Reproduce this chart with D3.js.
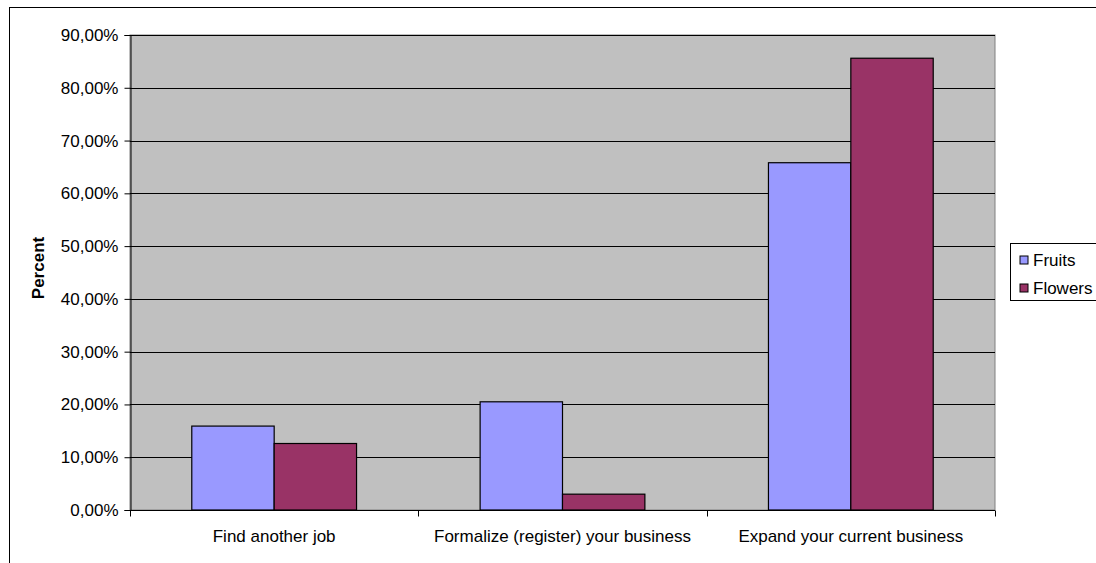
<!DOCTYPE html>
<html>
<head>
<meta charset="utf-8">
<script src="https://cdn.jsdelivr.net/npm/d3@7"></script>
<style>
  body { margin: 0; background: #fff; }
  svg { display: block; font-family: "Liberation Sans", Arial, sans-serif; }
</style>
</head>
<body>
<div id="chart"></div>
<script>
// data
const categories = ["Find another job", "Formalize (register) your business", "Expand your current business"];
const seriesNames = ["Fruits", "Flowers"];
const fruits = [0.159, 0.205, 0.658];
const flowers = [0.126, 0.030, 0.856];
const yTicks = [0, 0.1, 0.2, 0.3, 0.4, 0.5, 0.6, 0.7, 0.8, 0.9];

const colors = { Fruits: "#9999ff", Flowers: "#993366" };

const width = 1096, height = 563;
const plot = { left: 130, top: 35, right: 995, bottom: 510 };
const fontSize = "17px";

const svg = d3.select("#chart").append("svg")
  .attr("width", width)
  .attr("height", height);

// outer chart frame
svg.append("rect")
  .attr("x", 9.5).attr("y", 7.5)
  .attr("width", width + 10).attr("height", height + 10)
  .attr("fill", "#fff").attr("stroke", "#000").attr("stroke-width", 1);

// plot area background
svg.append("rect")
  .attr("x", plot.left).attr("y", plot.top)
  .attr("width", plot.right - plot.left).attr("height", plot.bottom - plot.top)
  .attr("fill", "#c0c0c0").attr("stroke", "#808080").attr("stroke-width", 1);

const x0 = d3.scaleBand().domain(categories).range([plot.left, plot.right]).paddingInner(0).paddingOuter(0);
const x1 = d3.scaleBand().domain(seriesNames).range([0, x0.bandwidth()]).paddingInner(0).paddingOuter(0.75);
const y = d3.scaleLinear().domain([0, 0.9]).range([plot.bottom, plot.top]);

// gridlines
svg.append("g").selectAll("line")
  .data(yTicks.slice(1))
  .join("line")
    .attr("x1", plot.left).attr("x2", plot.right)
    .attr("y1", d => Math.round(y(d)) + 0.5).attr("y2", d => Math.round(y(d)) + 0.5)
    .attr("stroke", "#000").attr("stroke-width", 1);

// bars
const rows = categories.map((c, i) => ({ cat: c, values: [
  { name: "Fruits", value: fruits[i] },
  { name: "Flowers", value: flowers[i] }
]}));

svg.append("g").selectAll("g")
  .data(rows)
  .join("g")
    .attr("transform", d => `translate(${x0(d.cat)},0)`)
  .selectAll("rect")
  .data(d => d.values)
  .join("rect")
    .attr("x", d => x1(d.name))
    .attr("y", d => y(d.value))
    .attr("width", x1.bandwidth())
    .attr("height", d => y(0) - y(d.value))
    .attr("fill", d => colors[d.name])
    .attr("stroke", "#000").attr("stroke-width", 1.2);

// y axis
const yAxis = svg.append("g")
  .attr("transform", `translate(${plot.left + 0.5},0)`)
  .call(d3.axisLeft(y).tickValues(yTicks).tickSize(6).tickPadding(6)
    .tickFormat(d => d3.format(".2f")(d * 100).replace(".", ",") + "%"));
yAxis.select(".domain").attr("stroke", "#000");
yAxis.selectAll("line").attr("stroke", "#000");
yAxis.selectAll("text").attr("font-size", fontSize).attr("fill", "#000")
  .attr("font-family", "Liberation Sans, Arial, sans-serif");

// x axis with ticks at category boundaries
const xAxis = svg.append("g").attr("transform", `translate(0,${plot.bottom + 0.5})`);
xAxis.append("line")
  .attr("x1", plot.left).attr("x2", plot.right)
  .attr("stroke", "#000");
const bounds = categories.map(c => x0(c)).concat([x0.range()[1]]);
xAxis.selectAll("line.tk")
  .data(bounds)
  .join("line").attr("class", "tk")
    .attr("x1", d => Math.round(d) + 0.5).attr("x2", d => Math.round(d) + 0.5)
    .attr("y1", 0).attr("y2", 6)
    .attr("stroke", "#000");
xAxis.selectAll("text")
  .data(categories)
  .join("text")
    .attr("x", d => x0(d) + x0.bandwidth() / 2)
    .attr("y", 31)
    .attr("text-anchor", "middle")
    .attr("font-size", fontSize)
    .text(d => d);

// y title
svg.append("text")
  .attr("transform", "translate(44,268) rotate(-90)")
  .attr("text-anchor", "middle")
  .attr("font-size", fontSize)
  .attr("font-weight", "bold")
  .text("Percent");

// legend
const legend = svg.append("g").attr("transform", "translate(1010.5,243.5)");
legend.append("rect")
  .attr("width", 100).attr("height", 57)
  .attr("fill", "#fff").attr("stroke", "#000");
legend.selectAll("g")
  .data(seriesNames)
  .join("g")
    .attr("transform", (d, i) => `translate(0,${16.5 + i * 28})`)
  .call(g => g.append("rect")
    .attr("x", 9.5).attr("y", -4).attr("width", 8).attr("height", 8)
    .attr("fill", d => colors[d]).attr("stroke", "#000"))
  .call(g => g.append("text")
    .attr("x", 22.5).attr("y", 6)
    .attr("font-size", fontSize)
    .text(d => d));
</script>
</body>
</html>
